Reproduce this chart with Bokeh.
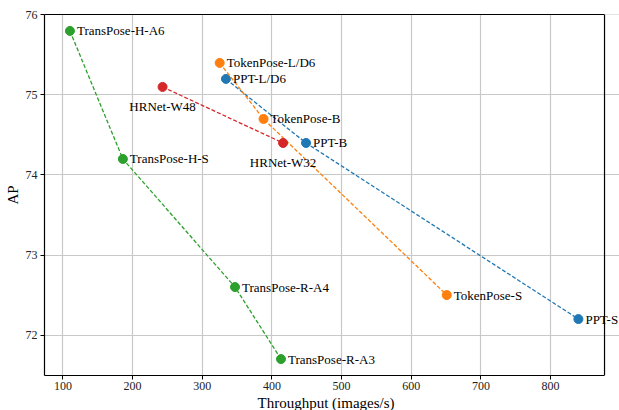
from bokeh.plotting import figure
from bokeh.models import ColumnDataSource, Range1d, FixedTicker, Label, LinearAxis, Span, Title
from bokeh.embed import file_html
from bokeh.resources import INLINE

# --- data ---
ppt_names = ["PPT-L/D6", "PPT-B", "PPT-S"]
ppt_x = [334, 449, 840]
ppt_y = [75.2, 74.4, 72.2]

tok_names = ["TokenPose-L/D6", "TokenPose-B", "TokenPose-S"]
tok_x = [325, 388, 651]
tok_y = [75.4, 74.7, 72.5]

trans_names = ["TransPose-H-A6", "TransPose-H-S", "TransPose-R-A4", "TransPose-R-A3"]
trans_x = [110, 186, 347, 413]
trans_y = [75.8, 74.2, 72.6, 71.7]

hr_names = ["HRNet-W48", "HRNet-W32"]
hr_x = [243, 416]
hr_y = [75.1, 74.4]

x_ticks = [100, 200, 300, 400, 500, 600, 700, 800]
y_ticks = [72, 73, 74, 75, 76]

x_title = "Throughput (images/s)"
y_title = "AP"

FONT = "Times New Roman"

X0, X1 = 73.5, 877.5          # axes box limits
XPAD = 21.5                   # empty room right of the box so labels are not clipped
Y0, Y1 = 71.495, 76.005

p = figure(width=619, height=410, output_backend="svg", toolbar_location=None,
           x_range=Range1d(X0, X1 + XPAD), y_range=Range1d(Y0, Y1),
           min_border_left=44, min_border_right=0, min_border_top=14, min_border_bottom=30)
p.background_fill_color = "white"
p.border_fill_color = "white"
p.outline_line_color = None

for ax, ticks in ((p.xaxis[0], x_ticks), (p.yaxis[0], y_ticks)):
    ax.ticker = FixedTicker(ticks=ticks)
    ax.minor_tick_line_color = None
    ax.major_tick_out = 4
    ax.major_tick_in = 0
    ax.major_tick_line_color = "black"
    ax.axis_line_color = "black"
    ax.axis_line_width = 1.2
    ax.major_label_text_font = FONT
    ax.major_label_text_font_size = "12px"
    ax.major_label_text_color = "#222222"
    ax.axis_label_text_font = FONT
    ax.axis_label_text_font_size = "15px"
    ax.axis_label_text_font_style = "normal"
    ax.axis_label_text_color = "black"

p.xaxis[0].bounds = (X0, X1)
p.xaxis[0].major_label_standoff = 2
p.yaxis[0].major_label_standoff = 3
p.yaxis[0].axis_label_standoff = 2
p.yaxis.axis_label = y_title

# x title, centred under the axes box (not under the padded frame)
xt = Title(text=x_title, align="left", offset=213, standoff=0,
           text_font=FONT, text_font_size="15px", text_font_style="normal",
           text_color="black")
p.add_layout(xt, "below")

# top spine
top = LinearAxis(bounds=(X0, X1), ticker=FixedTicker(ticks=[]), major_tick_line_color=None,
                 minor_tick_line_color=None, major_label_text_font_size="0px",
                 axis_line_color="black", axis_line_width=1.2)
p.add_layout(top, "above")

p.xgrid.grid_line_color = "#c8c8c8"
p.ygrid.grid_line_color = "#c8c8c8"
p.xgrid.grid_line_width = 1.2
p.ygrid.grid_line_width = 1.2
p.ygrid.bounds = (X0, X1)

series = [
    (ppt_names, ppt_x, ppt_y, "#1f77b4", "right"),
    (tok_names, tok_x, tok_y, "#ff7f0e", "right"),
    (trans_names, trans_x, trans_y, "#2ca02c", "right"),
    (hr_names, hr_x, hr_y, "#d62728", "below"),
]

for names, xs, ys, color, place in series:
    src = ColumnDataSource(dict(x=xs, y=ys, name=names))
    p.line("x", "y", source=src, line_color=color, line_width=1.3, line_dash="4 2")
    p.scatter("x", "y", source=src, size=9, fill_color=color, line_color=color)
    for nm, xv, yv in zip(names, xs, ys):
        if place == "right":
            lab = Label(x=xv, y=yv, text=nm, x_offset=7, y_offset=0,
                        text_align="left", text_baseline="middle")
        else:
            lab = Label(x=xv, y=yv, text=nm, x_offset=0, y_offset=-20,
                        text_align="center", text_baseline="middle")
        lab.text_font = FONT
        lab.text_font_size = "13px"
        lab.text_color = "black"
        p.add_layout(lab)

# right spine (drawn last, over the labels, as in the reference)
p.add_layout(Span(location=X1, dimension="height", line_color="black", line_width=1.2))

open("out.html", "w").write(file_html(p, INLINE))
